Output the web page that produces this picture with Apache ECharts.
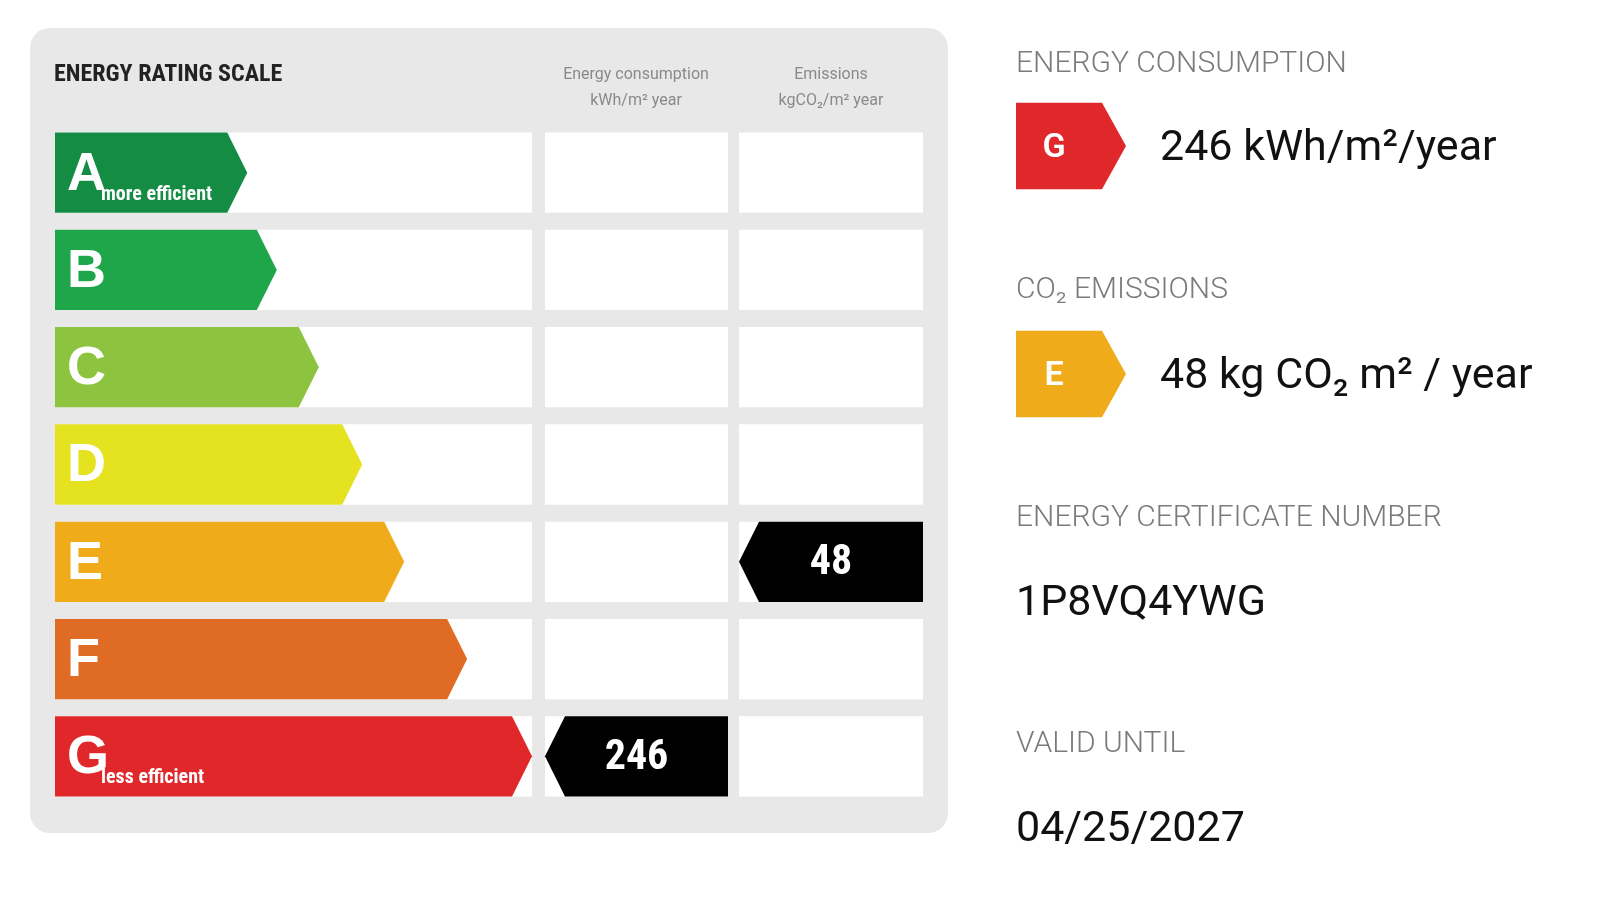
<!DOCTYPE html>
<html>
<head>
<meta charset="utf-8">
<title>Energy rating scale</title>
<script src="https://cdn.jsdelivr.net/npm/echarts@6/dist/echarts.min.js"></script>
<style>
    html, body { margin: 0; padding: 0; background: #fff; }
    #chart { width: 1600px; height: 900px; }
</style>
</head>
<body>
<div id="chart"></div>
<script>
// rating scale
var ratings = ['A', 'B', 'C', 'D', 'E', 'F', 'G'];
var bandLength = [40.3, 46.5, 55.3, 64.4, 73.2, 86.4, 100]; // % of scale column
var ratingColors = ['#148c43', '#1fa64a', '#8dc43f', '#e5e21f', '#efab1a', '#e06b25', '#e0272a'];
var bandNotes = ['more efficient', '', '', '', '', '', 'less efficient'];

// this building
var energyValue = 246;
var energyRating = 'G';
var co2Value = 48;
var co2Rating = 'E';
var certificateNumber = '1P8VQ4YWG';
var validUntil = '04/25/2027';
var summaryRows = ['energy', 'co2'];

var NARROW = '"Liberation Sans Narrow", "Roboto Condensed", "Liberation Sans", sans-serif';
var SANS = 'Roboto, "Noto Sans", sans-serif';
var TIP = 20;

function rowBox(api, i) {
    var left = api.coord([0, i]);
    var right = api.coord([100, i]);
    var h = api.size([0, 1])[1] * 0.825;
    return { x0: left[0], x1: right[0], cy: left[1], top: left[1] - h / 2, bottom: left[1] + h / 2, h: h };
}

function renderScale(params, api) {
    var i = api.value(1);
    var b = rowBox(api, i);
    var end = api.coord([api.value(0), i])[0];
    var children = [
        { type: 'rect', shape: { x: b.x0, y: b.top, width: b.x1 - b.x0, height: b.h }, style: { fill: '#fff' } },
        {
            type: 'polygon',
            shape: { points: [[b.x0, b.top], [end - TIP, b.top], [end, b.cy], [end - TIP, b.bottom], [b.x0, b.bottom]] },
            style: { fill: ratingColors[i] }
        },
        {
            type: 'text',
            style: { text: ratings[i], x: b.x0 + 12, y: b.cy + 2, fill: '#fff', font: 'bold 54px "Liberation Sans", Arial, sans-serif', verticalAlign: 'middle' }
        }
    ];
    if (bandNotes[i]) {
        children.push({
            type: 'text',
            style: { text: bandNotes[i], x: b.x0 + 46, y: b.bottom - 8, fill: '#fff', font: 'bold 20px ' + NARROW, verticalAlign: 'bottom' }
        });
    }
    return { type: 'group', children: children };
}

function renderPointer(params, api) {
    var i = api.value(1);
    var v = api.value(2);
    var b = rowBox(api, i);
    var children = [
        { type: 'rect', shape: { x: b.x0, y: b.top, width: b.x1 - b.x0, height: b.h }, style: { fill: '#fff' } }
    ];
    if (v > 0) {
        children.push({
            type: 'polygon',
            shape: { points: [[b.x0, b.cy], [b.x0 + TIP, b.top], [b.x1, b.top], [b.x1, b.bottom], [b.x0 + TIP, b.bottom]] },
            style: { fill: '#000' }
        });
        children.push({
            type: 'text',
            style: { text: String(v), x: (b.x0 + b.x1) / 2, y: b.cy + 2, fill: '#fff', font: 'bold 42px ' + NARROW, align: 'center', verticalAlign: 'middle' }
        });
    }
    return { type: 'group', children: children };
}

function renderBadge(params, api) {
    var i = api.value(1);
    var r = api.value(2);
    var left = api.coord([0, i]);
    var right = api.coord([api.value(0), i]);
    var h = api.size([0, 1])[1] * 0.38;
    var top = left[1] - h / 2, bottom = left[1] + h / 2;
    var tip = 24;
    return {
        type: 'group',
        children: [
            {
                type: 'polygon',
                shape: { points: [[left[0], top], [right[0] - tip, top], [right[0], left[1]], [right[0] - tip, bottom], [left[0], bottom]] },
                style: { fill: ratingColors[r] }
            },
            {
                type: 'text',
                style: { text: ratings[r], x: left[0] + 38, y: left[1] + 2, fill: '#fff', font: '600 34px ' + SANS, align: 'center', verticalAlign: 'middle' }
            }
        ]
    };
}

function pointerData(rating, value) {
    return ratings.map(function (r, i) {
        return [100, i, r == rating ? value : 0];
    });
}

var gridTop = 124;
var gridHeight = 681;
var grids = [
    { left: 55, width: 477, top: gridTop, height: gridHeight },
    { left: 545, width: 183, top: gridTop, height: gridHeight },
    { left: 739, width: 184, top: gridTop, height: gridHeight },
    { left: 1016, width: 110, top: 32, height: 456 }
];

var xAxes = [], yAxes = [];
for (var g = 0; g < grids.length; g++) {
    xAxes.push({ type: 'value', gridIndex: g, min: 0, max: 100, show: false });
    yAxes.push({ type: 'category', gridIndex: g, inverse: true, show: false, data: g < 3 ? ratings : summaryRows });
}

var headFont = '300 30px ' + SANS;
var headColor = '#7b7b7b';
var valueFont = '43px ' + SANS;

function txt(text, x, y, font, fill, align) {
    return { type: 'text', x: x, y: y, style: { text: text, font: font, fill: fill, align: align || 'left', verticalAlign: 'middle' } };
}

var option = {
    animation: false,
    grid: grids,
    xAxis: xAxes,
    yAxis: yAxes,
    graphic: [
        { type: 'rect', z: -10, shape: { x: 30, y: 28, width: 918, height: 805, r: 20 }, style: { fill: '#e8e8e8' } },
        txt('ENERGY RATING SCALE', 54, 75, 'bold 24px ' + NARROW, '#222'),
        txt('Energy consumption', 636, 75, '16px ' + SANS, '#8a8a8a', 'center'),
        txt('kWh/m\u00b2 year', 636, 101, '16px ' + SANS, '#8a8a8a', 'center'),
        txt('Emissions', 831, 75, '16px ' + SANS, '#8a8a8a', 'center'),
        txt('kgCO\u2082/m\u00b2 year', 831, 101, '16px ' + SANS, '#8a8a8a', 'center'),

        txt('ENERGY CONSUMPTION', 1016, 64, headFont, headColor),
        txt(energyValue + ' kWh/m\u00b2/year', 1160, 149, valueFont, '#111'),
        txt('CO\u2082 EMISSIONS', 1016, 290, headFont, headColor),
        txt(co2Value + ' kg CO\u2082 m\u00b2 / year', 1160, 377, valueFont, '#111'),
        txt('ENERGY CERTIFICATE NUMBER', 1016, 518, headFont, headColor),
        txt(certificateNumber, 1016, 604, valueFont, '#111'),
        txt('VALID UNTIL', 1016, 744, headFont, headColor),
        txt(validUntil, 1016, 830, valueFont, '#111')
    ],
    series: [
        {
            type: 'custom', name: 'scale', xAxisIndex: 0, yAxisIndex: 0,
            renderItem: renderScale,
            data: ratings.map(function (r, i) { return [bandLength[i], i]; })
        },
        {
            type: 'custom', name: 'energy', xAxisIndex: 1, yAxisIndex: 1,
            renderItem: renderPointer,
            data: pointerData(energyRating, energyValue)
        },
        {
            type: 'custom', name: 'emissions', xAxisIndex: 2, yAxisIndex: 2,
            renderItem: renderPointer,
            data: pointerData(co2Rating, co2Value)
        },
        {
            type: 'custom', name: 'badges', xAxisIndex: 3, yAxisIndex: 3,
            renderItem: renderBadge,
            data: [[100, 0, ratings.indexOf(energyRating)], [100, 1, ratings.indexOf(co2Rating)]]
        }
    ]
};

var myChart = echarts.init(document.getElementById('chart'));
myChart.setOption(option);
window.onresize = myChart.resize;
</script>
</body>
</html>
